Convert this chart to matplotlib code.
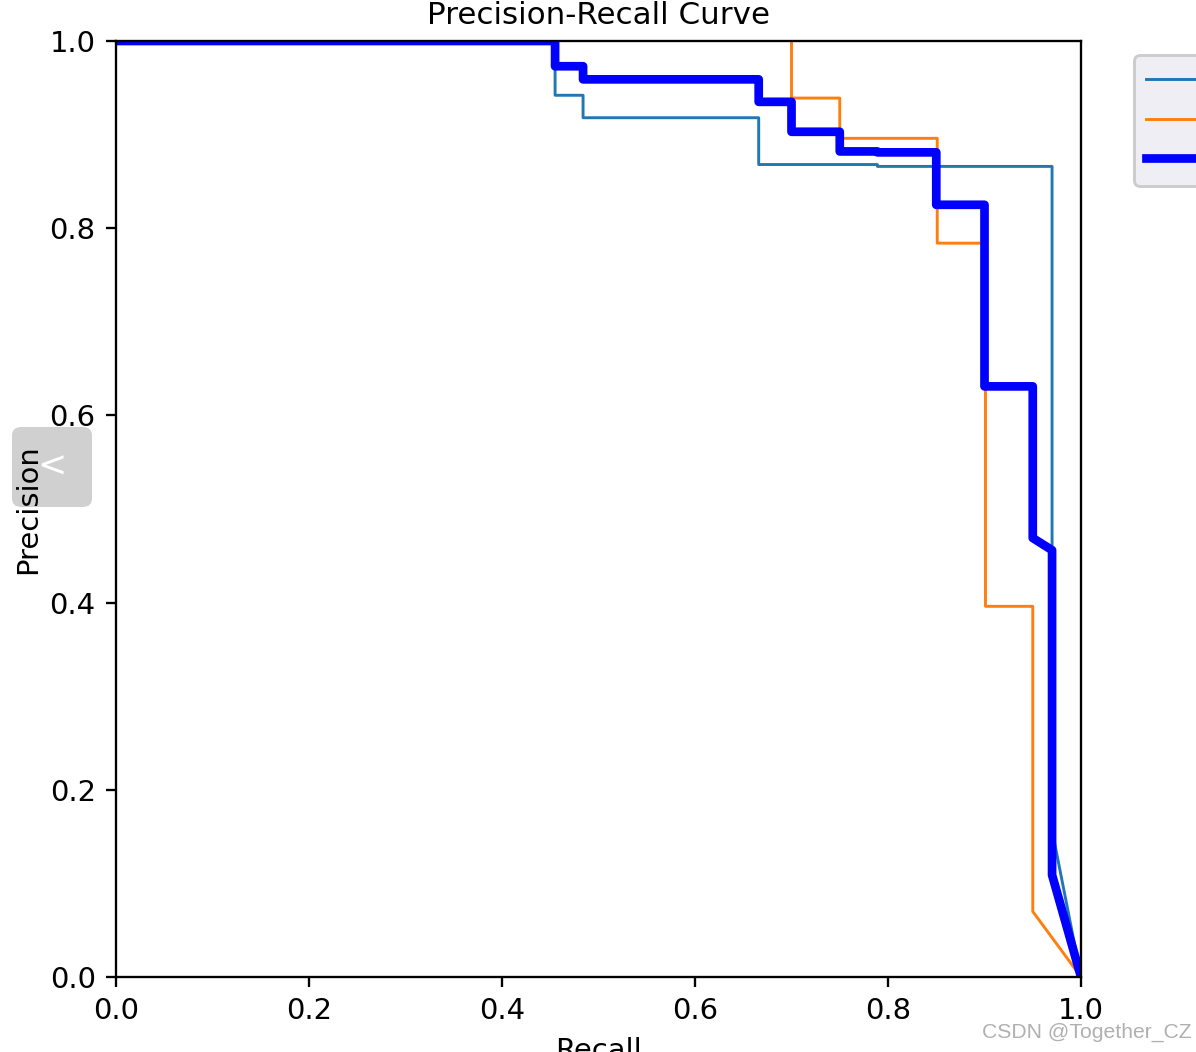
import matplotlib

matplotlib.use("Agg")
import matplotlib.pyplot as plt
from matplotlib.patches import FancyBboxPatch

# step curves (vertex lists)
recall_c0 = [0.0, 0.455, 0.455, 0.484, 0.484, 0.666, 0.666, 0.789, 0.789, 0.970, 0.970, 1.0]
prec_c0 = [1.0, 1.0, 0.942, 0.942, 0.918, 0.918, 0.868, 0.868, 0.866, 0.866, 0.157, 0.0]

recall_c1 = [0.700, 0.700, 0.750, 0.750, 0.851, 0.851, 0.901, 0.901, 0.950, 0.950, 1.0]
prec_c1 = [1.0, 0.939, 0.939, 0.896, 0.896, 0.784, 0.784, 0.396, 0.396, 0.070, 0.0]

recall_all = [0.0, 0.455, 0.455, 0.484, 0.484, 0.666, 0.666, 0.700, 0.700, 0.750, 0.750,
              0.789, 0.789, 0.850, 0.850, 0.900, 0.900, 0.950, 0.950, 0.970, 0.970, 1.0]
prec_all = [1.0, 1.0, 0.973, 0.973, 0.959, 0.959, 0.935, 0.935, 0.903, 0.903, 0.882,
            0.882, 0.881, 0.881, 0.825, 0.825, 0.631, 0.631, 0.469, 0.456, 0.109, 0.0]

labels = ["class0 0.915", "class1 0.881", "all classes 0.898 mAP@0.5"]
ticks = [0.0, 0.2, 0.4, 0.6, 0.8, 1.0]

DPI = 209
fig = plt.figure(figsize=(1196 / DPI + 1e-4, 1052 / DPI + 1e-4), dpi=DPI)
ax = fig.add_axes([116 / 1196, 1 - 977 / 1052, 965 / 1196, 936 / 1052])

ax.plot(recall_c0, prec_c0, linewidth=1, color="#1f77b4", label=labels[0])
ax.plot(recall_c1, prec_c1, linewidth=1, color="#ff7f0e", label=labels[1])
ax.plot(recall_all, prec_all, linewidth=3, color="blue", label=labels[2])

ax.set_xlim(0, 1)
ax.set_ylim(0, 1)
ax.set_xticks(ticks)
ax.set_yticks(ticks)
ax.set_xlabel("Recall")
ax.set_ylabel("Precision", labelpad=2.5)
ax.set_title("Precision-Recall Curve", fontsize=10.7)
leg = ax.legend(bbox_to_anchor=(1.04, 1), loc="upper left", facecolor="#eeeef4",
                edgecolor="#cccccc", framealpha=1, labelspacing=0.4)

# screenshot overlay button and watermark
btn = FancyBboxPatch((12 / 1196, 1 - 507 / 1052), 80 / 1196, 80 / 1052,
                     boxstyle="round,pad=0,rounding_size=0.008", transform=fig.transFigure,
                     facecolor="#d0d0d0", edgecolor="none", zorder=-1)
fig.patches.append(btn)
fig.text(52 / 1196, 1 - 467 / 1052, "<", color="white", fontsize=12, ha="center", va="center")
fig.text(1192 / 1196, 1 - 1032 / 1052, "CSDN @Together_CZ", color="#b0b0b0", fontsize=7.3,
         family="Liberation Sans", ha="right", va="center")

fig.savefig("out.png", dpi=DPI)
